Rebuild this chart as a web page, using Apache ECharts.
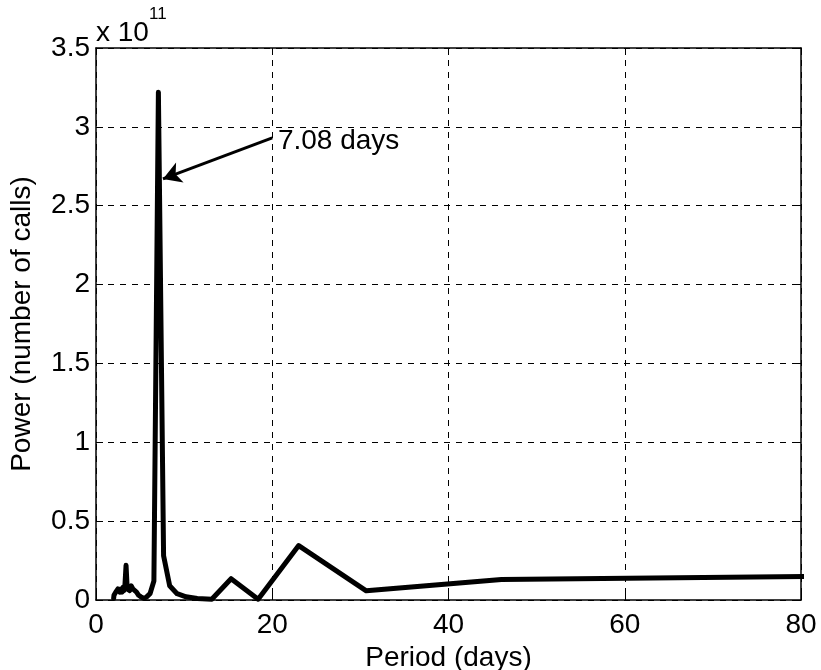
<!DOCTYPE html>
<html>
<head>
<meta charset="utf-8">
<script src="https://cdn.jsdelivr.net/npm/echarts@6/dist/echarts.min.js"></script>
<style>html,body{margin:0;padding:0;background:#fff}#c{width:821px;height:670px}</style>
</head>
<body>
<div id="c"></div>
<script>
// Period (days) of each spectral point
var periods = [2.00,2.04,2.09,2.14,2.19,2.24,2.30,2.36,2.42,2.49,2.56,2.63,2.71,2.79,2.88,2.97,3.07,3.17,3.29,3.41,3.54,3.68,3.83,4.00,4.18,4.38,4.60,4.84,5.11,5.41,5.75,6.13,6.57,7.08,7.67,8.36,9.20,10.22,11.50,13.14,15.33,18.40,23.00,30.67,46.00,92.00];
// Power in units of 1e11 calls
var powerE11 = [0.01,0.03,0.02,0.04,0.03,0.05,0.04,0.06,0.05,0.07,0.06,0.08,0.05,0.07,0.06,0.05,0.08,0.06,0.10,0.22,0.07,0.08,0.06,0.09,0.07,0.08,0.05,0.03,0.02,0.01,0.02,0.04,0.12,3.22,0.28,0.09,0.04,0.02,0.01,0.005,0.135,0.005,0.345,0.058,0.13,0.155];
var xTicks = [0,20,40,60,80];
var yTicks = [0,0.5,1,1.5,2,2.5,3,3.5];
var annotationText = '7.08 days';
var annotationAt = [20.3, 2.91];
var arrowFrom = [20.0, 2.93];
var arrowTo = [7.6, 2.67];
var multiplierBase = 'x 10';
var multiplierExp = '11';

var FONT = '"Liberation Sans", Arial, Helvetica, sans-serif';
var FS = 28;
var data = periods.map(function (p, i) { return [p, powerE11[i]]; });

var chart = echarts.init(document.getElementById('c'), null, {renderer: 'canvas'});
var axisCommon = {
  axisLine: {show: true, onZero: false, lineStyle: {color: '#000', width: 1.5}},
  axisTick: {show: true, inside: true, length: 7, lineStyle: {color: '#000', width: 1}},
  axisLabel: {color: '#000', fontSize: FS, fontFamily: FONT},
  splitLine: {show: false}
};
chart.setOption({
  animation: false,
  backgroundColor: '#fff',
  grid: {left: 96, right: 20, top: 48, bottom: 70, containLabel: false, outerBoundsMode: 'none'},
  graphic: [
    {type: 'text', left: 96, top: 19, style: {text: multiplierBase, fontSize: FS, fontFamily: FONT, fill: '#000'}},
    {type: 'text', left: 149, top: 6, style: {text: multiplierExp, fontSize: 17, fontFamily: FONT, fill: '#000'}}
  ],
  xAxis: [
    Object.assign({}, axisCommon, {
      type: 'value', min: xTicks[0], max: xTicks[xTicks.length - 1], interval: 20,
      position: 'bottom',
      name: 'Period (days)', nameLocation: 'middle', nameGap: 40,
      nameTextStyle: {color: '#000', fontSize: FS, fontFamily: FONT},
      axisLabel: {color: '#000', fontSize: FS, fontFamily: FONT, margin: 11},
      splitLine: {show: true, lineStyle: {color: '#000', width: 1, type: [6, 6]}}
    }),
    Object.assign({}, axisCommon, {
      type: 'value', min: xTicks[0], max: xTicks[xTicks.length - 1], interval: 20,
      position: 'top', axisLabel: {show: false}
    })
  ],
  yAxis: [
    Object.assign({}, axisCommon, {
      type: 'value', min: yTicks[0], max: yTicks[yTicks.length - 1], interval: 0.5,
      position: 'left',
      name: 'Power (number of calls)', nameLocation: 'middle', nameGap: 60, nameRotate: 90,
      nameTextStyle: {color: '#000', fontSize: FS, fontFamily: FONT},
      axisLabel: {color: '#000', fontSize: FS, fontFamily: FONT, margin: 6},
      splitLine: {show: true, lineStyle: {color: '#000', width: 1, type: [6, 6]}}
    }),
    Object.assign({}, axisCommon, {
      type: 'value', min: yTicks[0], max: yTicks[yTicks.length - 1], interval: 0.5,
      position: 'right', axisLabel: {show: false}
    })
  ],
  series: [{
    type: 'line',
    xAxisIndex: 0, yAxisIndex: 0,
    data: data,
    showSymbol: false,
    symbol: 'none',
    clip: true,
    lineStyle: {color: '#000', width: 5, join: 'round', cap: 'round'},
    markLine: {
      silent: true,
      symbol: ['none', 'arrow'],
      symbolSize: [16, 18],
      label: {show: false},
      lineStyle: {color: '#000', width: 3, type: 'solid'},
      data: [[{coord: arrowFrom}, {coord: arrowTo}]]
    },
    markPoint: {
      silent: true,
      symbol: 'circle', symbolSize: 0,
      data: [{coord: annotationAt, label: {show: true, position: 'right', distance: 3, formatter: annotationText, color: '#000', fontSize: FS, fontFamily: FONT}}]
    }
  }]
});
</script>
</body>
</html>
